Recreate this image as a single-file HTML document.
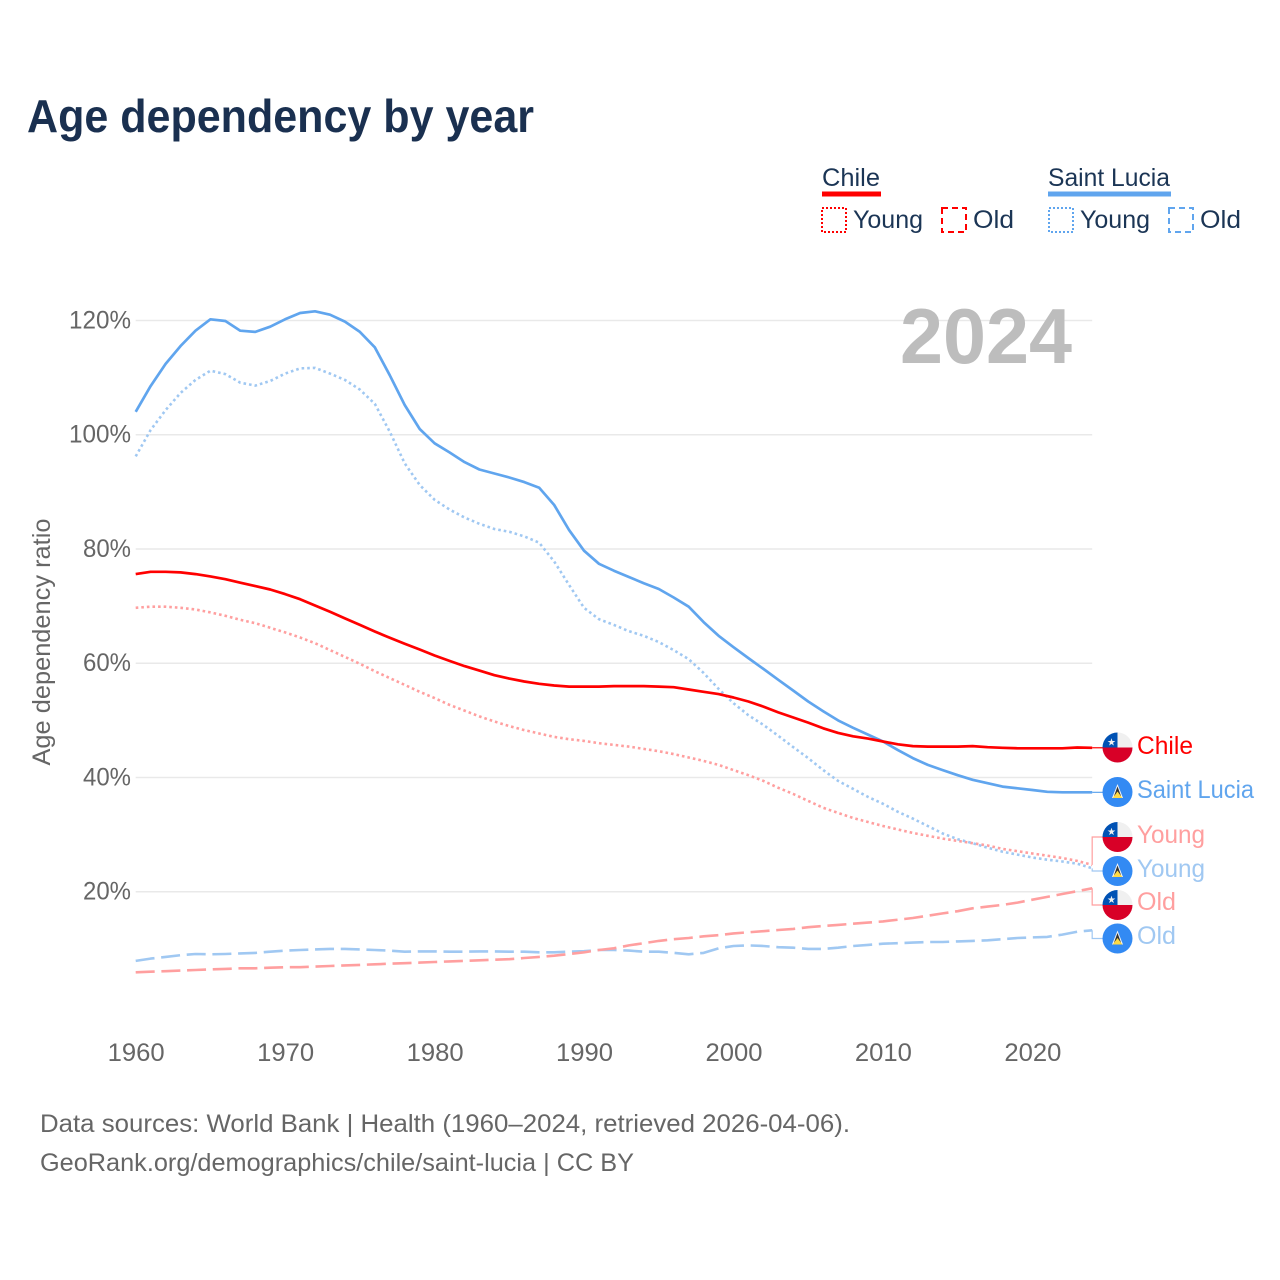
<!DOCTYPE html>
<html lang="en">
<head>
<meta charset="utf-8">
<title>Age dependency by year</title>
<style>
html,body{margin:0;padding:0;background:#fff}
svg{display:block}
text{font-family:"Liberation Sans",sans-serif}
</style>
</head>
<body>
<svg id="chart" width="1280" height="1280" viewBox="0 0 1280 1280" xmlns="http://www.w3.org/2000/svg">
<defs>
<clipPath id="flag-clip"><circle cx="0" cy="0" r="15"/></clipPath>
</defs>
<rect width="1280" height="1280" fill="#fff"/>
<text x="27" y="132" font-size="46" font-weight="700" fill="#1a3050" textLength="507" lengthAdjust="spacingAndGlyphs">Age dependency by year</text>

<g font-size="25" fill="#1b3555">
<text x="822" y="186" textLength="58" lengthAdjust="spacingAndGlyphs">Chile</text>
<rect x="822" y="191.5" width="59" height="5" fill="#ff0000"/>
<rect x="822" y="208" width="24" height="24" fill="none" stroke="#ff0000" stroke-width="2" stroke-dasharray="2 2"/>
<text x="853" y="228" textLength="70" lengthAdjust="spacingAndGlyphs">Young</text>
<rect x="942" y="208" width="24" height="24" fill="none" stroke="#ff0000" stroke-width="2" stroke-dasharray="6 4"/>
<text x="973" y="228" textLength="41" lengthAdjust="spacingAndGlyphs">Old</text>
<text x="1048" y="186" textLength="122" lengthAdjust="spacingAndGlyphs">Saint Lucia</text>
<rect x="1048" y="191.5" width="123" height="5" fill="#60a5ee"/>
<rect x="1049" y="208" width="24" height="24" fill="none" stroke="#60a5ee" stroke-width="2" stroke-dasharray="2 2"/>
<text x="1080" y="228" textLength="70" lengthAdjust="spacingAndGlyphs">Young</text>
<rect x="1169" y="208" width="24" height="24" fill="none" stroke="#60a5ee" stroke-width="2" stroke-dasharray="6 4"/>
<text x="1200" y="228" textLength="41" lengthAdjust="spacingAndGlyphs">Old</text>
</g>

<g id="grid"></g>
<g id="y-ticks"></g>
<g id="x-ticks"></g>
<text transform="translate(50,642) rotate(-90)" text-anchor="middle" font-size="25" fill="#666" textLength="247" lengthAdjust="spacingAndGlyphs">Age dependency ratio</text>
<text x="900" y="363" font-size="78" font-weight="700" fill="#bdbdbd" textLength="172" lengthAdjust="spacingAndGlyphs">2024</text>

<g id="series"></g>

<g transform="translate(1117.5,747.5)"><g clip-path="url(#flag-clip)"><rect x="-15" y="-15" width="30" height="15" fill="#f0f0f0"/><rect x="-15" y="-15" width="15" height="15" fill="#0052b4"/><rect x="-15" y="0" width="30" height="15" fill="#d80027"/><text x="-6" y="-2" font-size="10" text-anchor="middle" fill="#f0f0f0">★</text></g></g>
<g transform="translate(1117.5,792)"><g clip-path="url(#flag-clip)"><rect x="-15" y="-15" width="30" height="30" fill="#338af3"/><path d="M0-8L5.5 6H-5.5Z" fill="#f3f3f3"/><path d="M0-5.5L3.5 4H-3.5Z" fill="#333"/><path d="M0 -0.5L4.8 6H-4.8Z" fill="#ffda44"/></g></g>
<g transform="translate(1117.5,837)"><g clip-path="url(#flag-clip)"><rect x="-15" y="-15" width="30" height="15" fill="#f0f0f0"/><rect x="-15" y="-15" width="15" height="15" fill="#0052b4"/><rect x="-15" y="0" width="30" height="15" fill="#d80027"/><text x="-6" y="-2" font-size="10" text-anchor="middle" fill="#f0f0f0">★</text></g></g>
<g transform="translate(1117.5,871)"><g clip-path="url(#flag-clip)"><rect x="-15" y="-15" width="30" height="30" fill="#338af3"/><path d="M0-8L5.5 6H-5.5Z" fill="#f3f3f3"/><path d="M0-5.5L3.5 4H-3.5Z" fill="#333"/><path d="M0 -0.5L4.8 6H-4.8Z" fill="#ffda44"/></g></g>
<g transform="translate(1117.5,905)"><g clip-path="url(#flag-clip)"><rect x="-15" y="-15" width="30" height="15" fill="#f0f0f0"/><rect x="-15" y="-15" width="15" height="15" fill="#0052b4"/><rect x="-15" y="0" width="30" height="15" fill="#d80027"/><text x="-6" y="-2" font-size="10" text-anchor="middle" fill="#f0f0f0">★</text></g></g>
<g transform="translate(1117.5,938.5)"><g clip-path="url(#flag-clip)"><rect x="-15" y="-15" width="30" height="30" fill="#338af3"/><path d="M0-8L5.5 6H-5.5Z" fill="#f3f3f3"/><path d="M0-5.5L3.5 4H-3.5Z" fill="#333"/><path d="M0 -0.5L4.8 6H-4.8Z" fill="#ffda44"/></g></g>

<g font-size="25">
<text x="1137" y="754" fill="#ff0000" textLength="56" lengthAdjust="spacingAndGlyphs">Chile</text>
<text x="1137" y="798" fill="#60a5ee" textLength="117" lengthAdjust="spacingAndGlyphs">Saint Lucia</text>
<text x="1137" y="843" fill="#ff9f9f" textLength="68" lengthAdjust="spacingAndGlyphs">Young</text>
<text x="1137" y="877" fill="#a0c8f2" textLength="68" lengthAdjust="spacingAndGlyphs">Young</text>
<text x="1137" y="910" fill="#ff9f9f" textLength="39" lengthAdjust="spacingAndGlyphs">Old</text>
<text x="1137" y="944" fill="#a0c8f2" textLength="39" lengthAdjust="spacingAndGlyphs">Old</text>
</g>

<g font-size="25" fill="#666">
<text x="40" y="1132" textLength="810" lengthAdjust="spacingAndGlyphs">Data sources: World Bank | Health (1960–2024, retrieved 2026-04-06).</text>
<text x="40" y="1171" textLength="594" lengthAdjust="spacingAndGlyphs">GeoRank.org/demographics/chile/saint-lucia | CC BY</text>
</g>
</svg>
<script>
const firstYear = 1960;
const yTickValues = [20, 40, 60, 80, 100, 120];
const yTickLabels = ["20%", "40%", "60%", "80%", "100%", "120%"];
const xTickValues = [1960, 1970, 1980, 1990, 2000, 2010, 2020];
const xTickLabels = ["1960", "1970", "1980", "1990", "2000", "2010", "2020"];

const chileTotal = [75.6,76,76,75.9,75.6,75.2,74.7,74.1,73.5,72.9,72.1,71.2,70.1,69,67.85,66.7,65.55,64.45,63.4,62.4,61.35,60.4,59.5,58.7,57.9,57.3,56.8,56.4,56.1,55.9,55.9,55.9,56,56,56,55.9,55.8,55.4,55,54.6,54,53.3,52.4,51.4,50.5,49.6,48.6,47.8,47.2,46.8,46.3,45.8,45.5,45.4,45.4,45.4,45.5,45.3,45.2,45.1,45.1,45.1,45.1,45.25,45.2];
const chileYoung = [69.7,69.9,69.9,69.7,69.4,68.9,68.3,67.6,67,66.2,65.4,64.5,63.5,62.3,61.1,59.9,58.6,57.4,56.2,55,53.9,52.7,51.7,50.7,49.8,49,48.3,47.7,47.1,46.7,46.4,46,45.7,45.4,45,44.6,44.1,43.5,42.9,42.2,41.3,40.4,39.4,38.2,37.1,35.9,34.7,33.8,32.9,32.2,31.5,30.9,30.3,29.8,29.3,28.9,28.5,28.1,27.5,27.1,26.7,26.3,25.9,25.4,24.7];
const chileOld = [5.9,6,6.1,6.2,6.3,6.4,6.5,6.6,6.6,6.7,6.8,6.8,6.9,7,7.1,7.2,7.3,7.4,7.5,7.6,7.7,7.8,7.9,8,8.1,8.2,8.4,8.6,8.8,9.1,9.4,9.8,10.1,10.6,11,11.4,11.7,11.9,12.2,12.4,12.7,12.9,13.1,13.3,13.5,13.8,14,14.2,14.4,14.6,14.8,15.1,15.4,15.8,16.2,16.6,17.1,17.4,17.7,18.1,18.6,19.1,19.6,20.1,20.6];
const luciaTotal = [104,108.5,112.4,115.5,118.2,120.2,119.9,118.2,118,118.9,120.2,121.3,121.6,121,119.8,118,115.3,110.4,105.2,101,98.5,96.9,95.2,93.9,93.2,92.5,91.7,90.7,87.7,83.3,79.7,77.4,76.2,75.1,74,73,71.5,69.9,67.2,64.8,62.8,60.9,59,57.1,55.2,53.3,51.6,50,48.7,47.5,46.3,44.8,43.4,42.2,41.3,40.4,39.6,39,38.4,38.1,37.8,37.5,37.4,37.4,37.4];
const luciaYoung = [96.2,100.8,104.3,107.3,109.6,111.2,110.6,109.1,108.6,109.4,110.7,111.6,111.7,110.7,109.6,107.9,105.4,100.5,95,91.2,88.6,86.9,85.5,84.4,83.5,83,82.2,81.1,77.8,73.7,69.7,67.7,66.7,65.6,64.8,63.7,62.3,60.7,58.3,55.5,53,50.9,49.2,47.3,45.3,43.4,41.3,39.4,38,36.6,35.4,34,32.8,31.5,30.2,29.2,28.5,27.7,27,26.5,26,25.6,25.3,24.9,24.1];
const luciaOld = [7.9,8.3,8.6,8.9,9.1,9.05,9.1,9.2,9.3,9.5,9.7,9.8,9.9,10,10,9.9,9.8,9.7,9.5,9.55,9.55,9.5,9.5,9.55,9.55,9.5,9.5,9.4,9.4,9.5,9.6,9.8,9.8,9.7,9.5,9.5,9.3,9.05,9.3,10.1,10.5,10.6,10.5,10.3,10.2,10,10,10.2,10.5,10.7,10.9,11,11.1,11.2,11.2,11.3,11.4,11.5,11.7,11.9,12,12.1,12.5,13,13.25];

const NS = "http://www.w3.org/2000/svg";
function xScale(year) { return 135.7 + (year - 1960) * 14.945; }
function yScale(value) { return 1006 - value * 5.713; }
function make(tag, attrs, parent) {
  const el = document.createElementNS(NS, tag);
  for (const k in attrs) el.setAttribute(k, attrs[k]);
  parent.appendChild(el);
  return el;
}
const gridGroup = document.getElementById("grid");
const yTickGroup = document.getElementById("y-ticks");
const xTickGroup = document.getElementById("x-ticks");
const seriesGroup = document.getElementById("series");

yTickValues.forEach(function (v, i) {
  const line = make("line", {x1: xScale(1960), x2: xScale(2024), y1: yScale(v), y2: yScale(v), stroke: "#e9e9e9", "stroke-width": 1.5}, gridGroup);
  
  
  const t = make("text", {x: 131, y: yScale(v) + 8, "text-anchor": "end", "font-size": 25, fill: "#666", textLength: yTickLabels[i].length === 4 ? 62 : 48, lengthAdjust: "spacingAndGlyphs"}, yTickGroup);
  t.textContent = yTickLabels[i];
  
  
});
xTickValues.forEach(function (v, i) {
  const t = make("text", {x: xScale(v) + 0.5, y: 1061, "text-anchor": "middle", "font-size": 25, fill: "#666", textLength: 57, lengthAdjust: "spacingAndGlyphs"}, xTickGroup);
  t.textContent = xTickLabels[i];
  
  
});

function pointsFor(values) {
  return values.map(function (v, i) { return xScale(firstYear + i).toFixed(1) + "," + yScale(v).toFixed(1); }).join(" ");
}
function drawLine(values, color, width, dash) {
  const attrs = {points: pointsFor(values), fill: "none", stroke: color, "stroke-width": width, "stroke-linejoin": "round"};
  if (dash) attrs["stroke-dasharray"] = dash;
  return make("polyline", attrs, seriesGroup);
}
function drawConnector(values, labelY, color) {
  const endX = xScale(2024);
  const endY = yScale(values[values.length - 1]);
  const pts = endX + "," + endY + " " + endX + "," + labelY + " 1103," + labelY;
  return make("polyline", {points: pts, fill: "none", stroke: color, "stroke-width": 1.2}, seriesGroup);
}

const c1 = drawConnector(chileYoung, 837, "#ff9f9f");


const c2 = drawConnector(luciaYoung, 871, "#a0c8f2");


const c3 = drawConnector(chileOld, 905, "#ff9f9f");


const c4 = drawConnector(luciaOld, 938.5, "#a0c8f2");


const c5 = drawConnector(chileTotal, yScale(chileTotal[chileTotal.length - 1]), "#ff0000");


const c6 = drawConnector(luciaTotal, yScale(luciaTotal[luciaTotal.length - 1]), "#60a5ee");



const s1 = drawLine(luciaOld, "#a0c8f2", 2.6, "19 6.7");


const s2 = drawLine(chileOld, "#ff9f9f", 2.6, "19 6.7");


const s3 = drawLine(chileYoung, "#ff9f9f", 2.6, "2.6 3");


const s4 = drawLine(luciaYoung, "#a0c8f2", 2.6, "2.6 3");


const s5 = drawLine(luciaTotal, "#60a5ee", 2.7);


const s6 = drawLine(chileTotal, "#ff0000", 2.7);


</script>
</body>
</html>
